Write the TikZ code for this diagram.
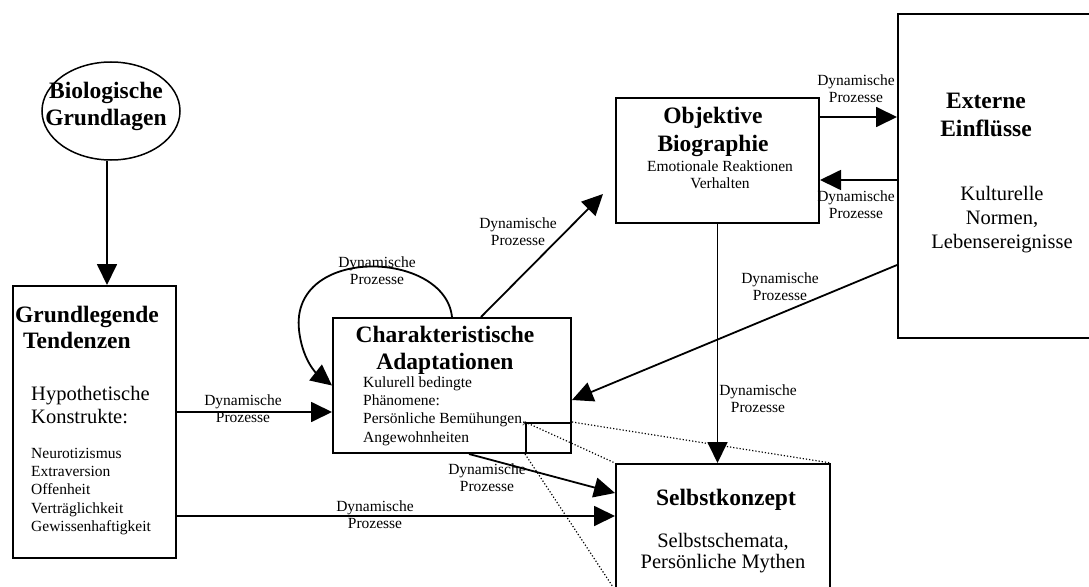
\documentclass[tikz,border=0pt]{standalone}
\usepackage{fontspec}
\setmainfont{Liberation Serif}
\usetikzlibrary{arrows.meta,shapes.geometric,calc}

% stacked lines, baseline = first line
\newcommand\stackc[1]{\begin{tabular}[t]{@{}c@{}}#1\end{tabular}}
\newcommand\stackl[1]{\begin{tabular}[t]{@{}l@{}}#1\end{tabular}}

\tikzset{
  box/.style={draw, line width=2pt, rectangle, inner sep=0pt, anchor=north west},
  arr/.style={line width=1.8pt, -{Triangle[length=21pt,width=20pt]}},
  zoomline/.style={line width=1.2pt, dash pattern=on 1.2pt off 2pt},
  txt/.style={inner sep=0pt, anchor=base},
  hd/.style={txt, font=\bfseries\fontsize{23.5}{26.5}\selectfont},
  bd/.style={txt, font=\fontsize{20.5}{23.5}\selectfont},
  sm/.style={txt, font=\fontsize{15.5}{18.4}\selectfont},
  lbl/.style={txt, font=\fontsize{15.5}{17.5}\selectfont},
}

\begin{document}
\begin{tikzpicture}[x=1pt,y=-1pt]
\useasboundingbox (0,0) rectangle (1089,586);

% ---- boxes ----
\node[draw, ellipse, line width=1.5pt, minimum width=138pt, minimum height=98pt, inner sep=0pt] (bio) at (111,111) {};
\node[box, minimum width=163pt, minimum height=272pt] (grund) at (12,285) {};
\node[box, minimum width=238pt, minimum height=135pt] (char) at (332,317) {};
\node[box, minimum width=45pt, minimum height=30pt] (inner) at (525,422) {};
\node[box, minimum width=203pt, minimum height=125pt] (obj) at (615,97) {};
\node[box, minimum width=220pt, minimum height=324pt] (ext) at (897,13) {};
\node[box, minimum width=214pt, minimum height=125pt] (selbst) at (615,463) {};

% ---- texts ----
\node[hd] (bioT) at (106,99) {\stackc{Biologische\\Grundlagen}};

\node[hd, anchor=base west] (grundT) at (15,322) {\stackl{Grundlegende\\\hspace{8pt}Tendenzen}};
\node[bd, anchor=base west, font=\fontsize{20.5}{23}\selectfont] (grundB) at (31,400) {\stackl{Hypothetische\\Konstrukte:}};
\node[sm, anchor=base west] (grundL) at (31,458) {\stackl{Neurotizismus\\Extraversion\\Offenheit\\Verträglichkeit\\Gewissenhaftigkeit}};

\node[hd, font=\bfseries\fontsize{23.5}{27}\selectfont] (charT) at (445,342) {\stackc{Charakteristische\\Adaptationen}};
\node[sm, anchor=base west] (charB) at (363,387) {\stackl{Kulurell bedingte\\Phänomene:\\Persönliche Bemühungen,\\Angewohnheiten}};

\node[hd, font=\bfseries\fontsize{23.5}{28}\selectfont] (objT) at (713,123) {\stackc{Objektive\\Biographie}};
\node[sm, font=\fontsize{15.5}{17}\selectfont] (objB) at (720,171) {\stackc{Emotionale Reaktionen\\Verhalten}};

\node[hd, font=\bfseries\fontsize{23.5}{28}\selectfont] (extT) at (986,108) {\stackc{Externe\\Einflüsse}};
\node[bd, font=\fontsize{20.5}{24}\selectfont] (extB) at (1002,200) {\stackc{Kulturelle\\Normen,\\Lebensereignisse}};

\node[hd] (selbstT) at (726,505) {Selbstkonzept};
\node[bd, font=\fontsize{20.5}{21}\selectfont] (selbstB) at (723,547) {\stackc{Selbstschemata,\\Persönliche Mythen}};

% ---- connectors ----
\draw[arr] ([xshift=-4pt]bio.south) -- ([xshift=-4pt]bio.south |- grund.north);
\draw[arr] (grund.east |- 0,412) -- (char.west |- 0,412);
\draw[arr] (grund.east |- 0,516) -- (selbst.west |- 0,516);
\draw[arr] (char.north) .. controls (445,250) and (290,245) .. (299,330)
                        .. controls (302,358) and (315,372) .. (char.west);
\draw[arr] ([xshift=29pt]char.north) -- ($(obj.south west)+(-12,-30)$);
\draw[arr] ([xshift=17pt]char.south) -- (selbst.west |- 0,493);
\draw[arr] (obj.east |- 0,117) -- (ext.west |- 0,117);
\draw[arr] (ext.west |- 0,180) -- (obj.east |- 0,180);
\draw[arr] (ext.west |- 0,265) -- (char.east |- 0,400);
\draw[arr] (obj.south) -- (obj.south |- selbst.north);

% ---- zoom lines ----
\draw[zoomline] (inner.north west) -- (selbst.north west);
\draw[zoomline] (inner.north east) -- (selbst.north east);
\draw[zoomline] (inner.south west) -- (selbst.south west);

% ---- connector labels ----
\node[lbl] (l1) at (243,405) {\stackc{Dynamische\\Prozesse}};
\node[lbl] (l2) at (377,267) {\stackc{Dynamische\\Prozesse}};
\node[lbl] (l3) at (518,228) {\stackc{Dynamische\\Prozesse}};
\node[lbl] (l4) at (856,85)  {\stackc{Dynamische\\Prozesse}};
\node[lbl] (l5) at (856,201) {\stackc{Dynamische\\Prozesse}};
\node[lbl] (l6) at (780,283) {\stackc{Dynamische\\Prozesse}};
\node[lbl] (l7) at (758,395) {\stackc{Dynamische\\Prozesse}};
\node[lbl] (l8) at (487,474) {\stackc{Dynamische\\Prozesse}};
\node[lbl] (l9) at (375,511) {\stackc{Dynamische\\Prozesse}};
\end{tikzpicture}
\end{document}
